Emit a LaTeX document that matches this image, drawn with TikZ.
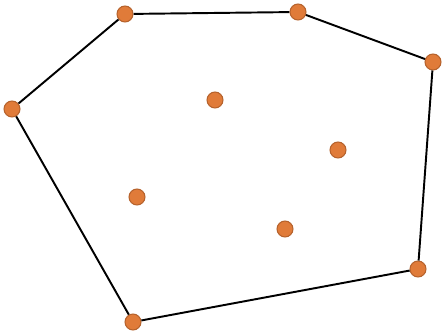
\documentclass[tikz,border=0pt]{standalone}
\usepackage{tikz}
\usetikzlibrary{positioning, calc}
\definecolor{dotfill}{HTML}{E07B39}
\definecolor{dotedge}{HTML}{B5622C}

\begin{document}
\begin{tikzpicture}[
    hullpt/.style={circle, fill=dotfill, draw=dotedge, line width=0.6pt, minimum size=0.32cm, inner sep=0pt},
    hulledge/.style={line width=1.1pt, black}
]
        \useasboundingbox (0,0) rectangle (8.84,6.64);
        % Hull vertices
        \node[hullpt] (a) at (2.50, 6.36) {};
        \node[hullpt] (b) at (5.96, 6.40) {};
        \node[hullpt] (c) at (8.66, 5.40) {};
        \node[hullpt] (d) at (8.36, 1.26) {};
        \node[hullpt] (e) at (2.66, 0.20) {};
        \node[hullpt] (f) at (0.24, 4.46) {};

        % Interior points
        \node[hullpt] (p1) at (4.30, 4.64) {};
        \node[hullpt] (p2) at (6.76, 3.64) {};
        \node[hullpt] (p3) at (2.74, 2.70) {};
        \node[hullpt] (p4) at (5.70, 2.06) {};

        % Hull edges
        \foreach \u/\v in {a/b, b/c, c/d, d/e, e/f, f/a} { \draw[hulledge] (\u) -- (\v); }
\end{tikzpicture}
\end{document}
